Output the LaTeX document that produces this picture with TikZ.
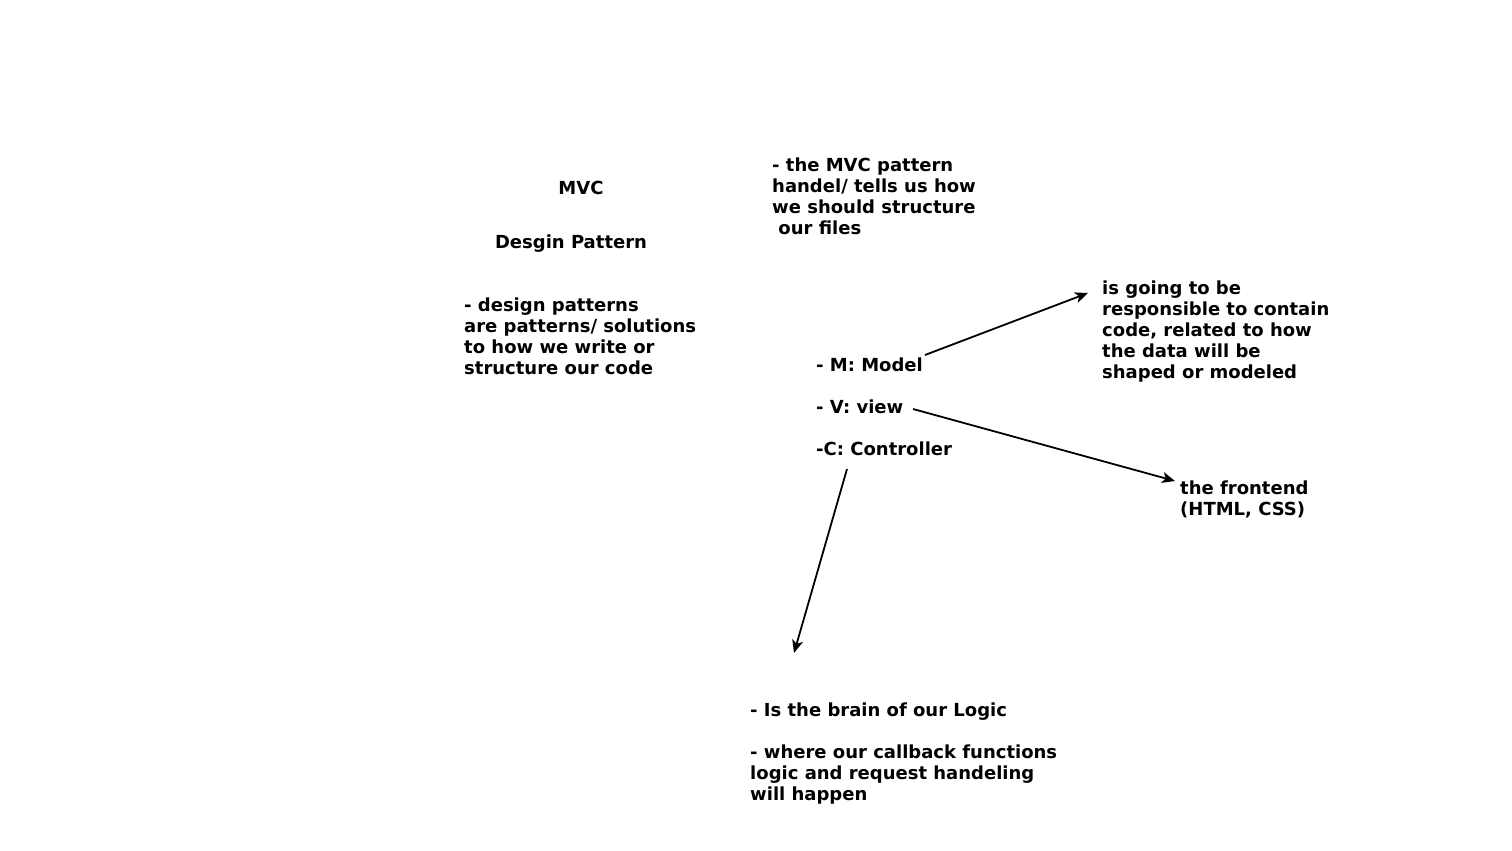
\documentclass[tikz,border=0pt]{standalone}
\usepackage{fontspec}
\setmainfont{DejaVu Sans}
\usetikzlibrary{arrows.meta}
\begin{document}
\begin{tikzpicture}[x=1pt,y=-1pt,
  txt/.style={font=\fontsize{18}{21}\selectfont\bfseries, inner sep=0pt, align=left, anchor=base west},
  conn/.style={line width=1.8pt, -{Stealth[length=13pt,width=11pt,inset=3.5pt]}}]
\useasboundingbox (0,0) rectangle (1512,851);
\node[txt, anchor=base] (mvc) at (581,194) {MVC};
\node[txt, anchor=base] (dp) at (571,248) {Desgin Pattern};
\node[txt] (dpdesc) at (464,374) {- design patterns\\are patterns/ solutions\\to how we write or\\structure our code};
\node[txt] (mvcdesc) at (772,234) {- the MVC pattern\\handel/ tells us how\\we should structure\\\ our files};
\node[txt] (m) at (816,371) {- M: Model};
\node[txt] (v) at (816,413) {- V: view};
\node[txt] (c) at (816,455) {-C: Controller};
\node[txt] (mdesc) at (1102,378) {is going to be\\responsible to contain\\code, related to how\\the data will be\\shaped or modeled};
\node[txt] (vdesc) at (1180,515) {the frontend\\(HTML, CSS)};
\node[txt] (cdesc) at (750,800) {- Is the brain of our Logic\\[21pt]- where our callback functions\\logic and request handeling\\will happen};
\coordinate (ms) at (925,355);
\coordinate (me) at (1088,293);
\coordinate (vs) at (913,409);
\coordinate (ve) at (1175,481);
\coordinate (cs) at (847,469);
\coordinate (ce) at (794,653);
\draw[conn] (ms) -- (me);
\draw[conn] (vs) -- (ve);
\draw[conn] (cs) -- (ce);
\end{tikzpicture}
\end{document}
